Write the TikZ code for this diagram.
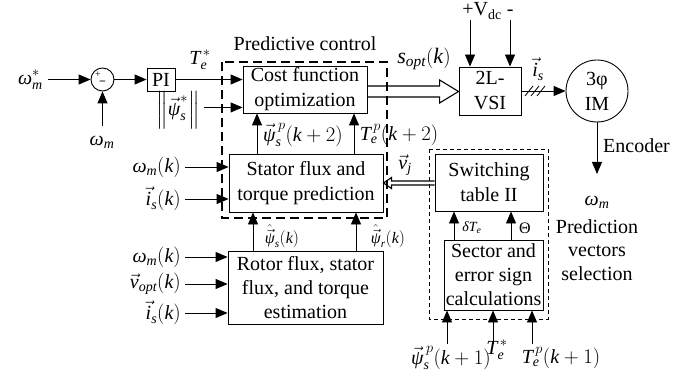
\documentclass[tikz,border=0pt]{standalone}
\usepackage{amsmath}
\usepackage{fontspec}
\setmainfont{Liberation Serif}
\usetikzlibrary{arrows.meta,calc}
\newcommand{\tx}[1]{\text{\itshape #1}}
\newcommand{\vv}[1]{\vec{\text{\itshape #1}}}
\newcommand{\hv}[1]{\hat{\vec{\text{\itshape #1}}}}
\begin{document}
\begin{tikzpicture}[x=1pt,y=-1pt,
  font=\fontsize{20}{25}\selectfont,
  box/.style={draw, line width=0.9pt, inner sep=0pt, align=center},
  arr/.style={line width=0.9pt, -{Triangle[length=12pt,width=10pt]}},
  lbl/.style={inner sep=1pt},
  pdash/.style={line width=2pt, dash pattern=on 9pt off 5pt},
  sdash/.style={line width=0.8pt, dash pattern=on 4pt off 3pt},
  hollow/.style={draw, line width=1.1pt, line join=miter}]
\useasboundingbox (0,0) rectangle (700,379);

% blocks
\node[box, minimum width=28pt, minimum height=23pt] (pi) at (161,79.5) {PI};
\node[draw, circle, line width=0.9pt, minimum size=23pt, inner sep=0pt] (sum) at (102.5,79.5) {};
\node[inner sep=0pt, font=\fontsize{10}{10}\selectfont] (plus) at (98,75) {+};
\node[inner sep=0pt, font=\fontsize{12}{12}\selectfont] (minus) at (102.5,83) {\textbf{−}};
\node[box, minimum width=124pt, minimum height=47pt] (cost) at (305,89.5) {Cost function\\optimization};
\node[box, minimum width=62pt, minimum height=48pt] (vsi) at (490,91) {2L-\\VSI};
\node[draw, circle, line width=0.9pt, minimum size=62pt, inner sep=0pt, align=center] (im) at (597,91) {3φ\\IM};
\node[box, minimum width=154pt, minimum height=58pt] (stator) at (306,183) {Stator flux and\\torque prediction};
\node[box, minimum width=155pt, minimum height=73pt, font=\fontsize{20}{24}\selectfont] (rotor) at (305.5,287.5) {Rotor flux, stator\\flux, and torque\\estimation};
\node[box, minimum width=108pt, minimum height=57pt] (switch) at (489,182.5) {Switching\\table II};
\node[box, minimum width=99pt, minimum height=70pt, font=\fontsize{20}{24}\selectfont] (sector) at (493.5,275) {Sector and\\error sign\\calculations};

% labels
\node[lbl, anchor=east] (wmstar) at (44,79.5) {$\tx{ω}^{*}_{\tx{m}}$};
\node[lbl] (wm) at (102,142) {$\tx{ω}_{\tx{m}}$};
\node[lbl] (testar) at (200,60) {$\tx{T}^{\,*}_{\tx{e}}$};
\node[lbl] (psinorm) at (178,110) {$\left\|\vv{ψ}^{*}_{\tx{s}}\right\|$};
\node[lbl] (predlbl) at (305,44) {Predictive control};
\node[lbl, font=\fontsize{22}{26}\selectfont] (sopt) at (424,59) {$\tx{s}_{\tx{opt}}(\tx{k})$};
\node[lbl] (vdc) at (488,11) {+V\textsubscript{dc} -};
\node[lbl] (islbl) at (538,69) {$\vv{i}_{\tx{s}}$};
\node[lbl, anchor=west] (enclbl) at (602,146) {Encoder};
\node[lbl] (wm2) at (597,202) {$\tx{ω}_{\tx{m}}$};
\node[lbl, align=center, font=\fontsize{20}{23.5}\selectfont] (predsel) at (597,250) {Prediction\\vectors\\selection};
\node[lbl] (psi2) at (303,135) {$\vv{ψ}^{\,p}_{\tx{s}}(\tx{k}+2)$};
\node[lbl] (te2) at (399,135) {$\tx{T}^{\,p}_{\tx{e}}(\tx{k}+2)$};
\node[lbl] (vj) at (405,165) {$\vv{v}_{\tx{j}}$};
\node[lbl, anchor=east] (wmk1) at (182,167) {$\tx{ω}_{\tx{m}}(\tx{k})$};
\node[lbl, anchor=east] (isk1) at (182,199) {$\vv{i}_{\tx{s}}(\tx{k})$};
\node[lbl, font=\fontsize{16}{18}\selectfont] (psihs) at (282,236) {$\hv{ψ}_{\tx{s}}(\tx{k})$};
\node[lbl, font=\fontsize{16}{18}\selectfont] (psihr) at (388,236) {$\hv{ψ}_{\tx{r}}(\tx{k})$};
\node[lbl, anchor=east] (wmk2) at (182,257) {$\tx{ω}_{\tx{m}}(\tx{k})$};
\node[lbl, anchor=east] (vopt) at (182,284) {$\vv{v}_{\tx{opt}}(\tx{k})$};
\node[lbl, anchor=east] (isk2) at (182,313) {$\vv{i}_{\tx{s}}(\tx{k})$};
\node[lbl, font=\fontsize{14}{16}\selectfont] (dte) at (472,228) {$\tx{δT}_{\tx{e}}$};
\node[lbl, font=\fontsize{16}{18}\selectfont] (theta) at (525,228) {Θ};
\node[lbl] (psi1) at (451,358) {$\vv{ψ}^{\,p}_{\tx{s}}(\tx{k}+1)$};
\node[lbl] (testar2) at (497,350) {$\tx{T}^{\,*}_{\tx{e}}$};
\node[lbl] (te1) at (561,358) {$\tx{T}^{\,p}_{\tx{e}}(\tx{k}+1)$};

% free ends
\coordinate (wmtop) at (102.5,126);
\coordinate (vd1) at (470,20);
\coordinate (vd2) at (510,20);
\coordinate (enc) at (597,174);
\coordinate (b1) at (447,344);
\coordinate (b2) at (493,344);
\coordinate (b3) at (532,344);
\coordinate (cin2) at ($(cost.south west)+(0,-6)$);

% connectors
\draw[arr] ([xshift=4pt]wmstar.east) -- (sum.west);
\draw[arr] (wmtop) -- (sum.south);
\draw[arr] (sum.east) -- (pi.west);
\draw[arr] (pi.east) -- (pi.east -| cost.west);
\draw[arr] ([xshift=3pt]psinorm.east |- cin2) -- (cin2);
\draw[arr] (vd1) -- (vd1 |- vsi.north);
\draw[arr] (vd2) -- (vd2 |- vsi.north);
\draw[arr] (vsi.east) -- (vsi.east -| im.west);
\foreach \hx in {529,535,541} \draw[line width=0.8pt] (\hx-4,96) -- (\hx+4,86);
\draw[arr] (im.south) -- (enc);
\draw[arr] ([xshift=-49pt]stator.north) -- ([xshift=-49pt]stator.north |- cost.south);
\draw[arr] ([xshift=48pt]stator.north) -- ([xshift=48pt]stator.north |- cost.south);
\draw[arr] ([xshift=3pt]wmk1.east) -- (wmk1.east -| stator.west);
\draw[arr] ([xshift=3pt]isk1.east) -- (isk1.east -| stator.west);
\draw[arr] ([xshift=-52.5pt]rotor.north) -- ([xshift=-52.5pt]rotor.north |- stator.south);
\draw[arr] ([xshift=50.5pt]rotor.north) -- ([xshift=50.5pt]rotor.north |- stator.south);
\draw[arr] ([xshift=3pt]wmk2.east) -- (wmk2.east -| rotor.west);
\draw[arr] ([xshift=3pt]vopt.east) -- (vopt.east -| rotor.west);
\draw[arr] ([xshift=3pt]isk2.east) -- (isk2.east -| rotor.west);
\draw[arr] ([xshift=-39.5pt]sector.north) -- ([xshift=-39.5pt]sector.north |- switch.south);
\draw[arr] ([xshift=17.5pt]sector.north) -- ([xshift=17.5pt]sector.north |- switch.south);
\draw[arr] (b1) -- (b1 |- sector.south);
\draw[arr] (b2) -- (b2 |- sector.south);
\draw[arr] (b3) -- (b3 |- sector.south);

% hollow arrow s_opt
\coordinate (sA) at ($(cost.east)+(0,2)$);
\coordinate (sB) at (vsi.west |- sA);
\draw[hollow] ($(sA)+(0,-5.5)$) -- ($(sB)+(-19,-5.5)$) -- ($(sB)+(-19,-11.5)$) -- (sB)
  -- ($(sB)+(-19,11.5)$) -- ($(sB)+(-19,5.5)$) -- ($(sA)+(0,5.5)$);
% hollow arrow v_j
\coordinate (vA) at ($(switch.west)+(0,0.5)$);
\coordinate (vB) at (stator.east |- vA);
\draw[hollow] ($(vA)+(0,-2)$) -- ($(vB)+(8,-2)$) -- ($(vB)+(8,-5.5)$) -- (vB)
  -- ($(vB)+(8,5.5)$) -- ($(vB)+(8,2)$) -- ($(vA)+(0,2)$);

% dashed groups
\draw[pdash] (222,62) rectangle (387,218);
\draw[sdash] (429,149) rectangle (548,319);
\end{tikzpicture}
\end{document}
